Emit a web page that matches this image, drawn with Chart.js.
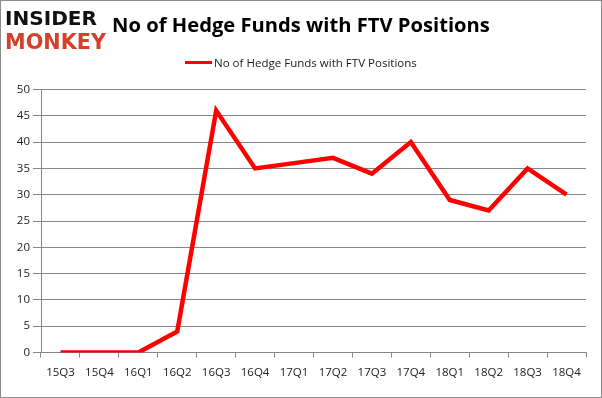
<!DOCTYPE html>
<html><head><meta charset="utf-8">
<script src="https://cdn.jsdelivr.net/npm/chart.js@4.4.1/dist/chart.umd.min.js"></script>
<style>
html,body{margin:0;padding:0;background:#fff;}
#wrap{position:absolute;left:0;top:0;width:602px;height:398px;}
#frame{position:absolute;left:0;top:0;width:602px;height:398px;box-sizing:border-box;border:1px solid #8c8c8c;pointer-events:none;}
.fit{position:absolute;white-space:nowrap;transform-origin:0 0;line-height:1;}
#logo1{font-family:"DejaVu Sans";font-weight:bold;color:#111;}
#logo2{font-family:"DejaVu Sans";font-weight:bold;color:#d6402b;}
#title{font-family:"Open Sans";font-weight:bold;color:#000;}
#legend{position:absolute;left:185px;top:54px;height:16px;}
#legline{position:absolute;left:0;top:7px;width:27px;height:3px;background:#ff0000;}
#legtext{position:absolute;left:29px;top:1px;font-family:"Open Sans";font-size:12px;color:#1a1a1a;white-space:nowrap;}
</style></head>
<body>
<div id="wrap"><canvas id="c" width="602" height="398"></canvas></div>
<div id="logo1" class="fit">INSIDER</div>
<div id="logo2" class="fit">MONKEY</div>
<div id="title" class="fit"></div>
<div id="legend"><div id="legline"></div><div id="legtext"></div></div>
<div id="frame"></div>
<script>
const chartTitle = "No of Hedge Funds with FTV Positions";
const seriesLabel = "No of Hedge Funds with FTV Positions";
const categories = ["15Q3","15Q4","16Q1","16Q2","16Q3","16Q4","17Q1","17Q2","17Q3","17Q4","18Q1","18Q2","18Q3","18Q4"];
const fundCounts = [0,0,0,4,46,35,36,37,34,40,29,27,35,30];
const yTicks = [0,5,10,15,20,25,30,35,40,45,50];

function fitBox(id, text, left, top, w, h, size){
  const el = document.getElementById(id);
  el.textContent = text;
  el.style.fontSize = size + 'px';
  el.style.left = left + 'px';
  el.style.top = top + 'px';
  const r = el.getBoundingClientRect();
  el.style.transform = 'scale(' + (w / r.width) + ',' + (h / r.height) + ')';
}
fitBox('logo1', 'INSIDER', 5, 8, 92, 20, 20);
fitBox('logo2', 'MONKEY', 5, 31, 101, 21, 20);
document.getElementById('title').textContent = chartTitle;
(function(){
  const el = document.getElementById('title');
  el.style.fontSize = '24px';
  const r = el.getBoundingClientRect();
  const s = 378 / r.width;
  el.style.fontSize = (24 * s) + 'px';
  const r2 = el.getBoundingClientRect();
  el.style.left = (301 - r2.width / 2) + 'px';
  el.style.top = '14px';
})();
(function(){
  const el = document.getElementById('legtext');
  el.textContent = seriesLabel;
  const r = el.getBoundingClientRect();
  el.style.fontSize = (12 * 203 / r.width) + 'px';
})();

const gridColor = '#878787';
new Chart(document.getElementById('c'), {
  type: 'line',
  data: {
    labels: categories,
    datasets: [{
      label: seriesLabel,
      data: fundCounts,
      borderColor: '#ff0000',
      backgroundColor: '#ff0000',
      borderWidth: 4.5,
      pointRadius: 0,
      tension: 0,
      fill: false
    }]
  },
  options: {
    responsive: false,
    animation: false,
    layout: { padding: { left: 0, right: 16, top: 89.5, bottom: 0 } },
    plugins: { legend: { display: false }, title: { display: false }, tooltip: { enabled: false } },
    scales: {
      x: {
        offset: true,
        grid: { display: true, drawOnChartArea: false, drawTicks: true, tickLength: 5, offset: true, color: gridColor },
        border: { display: true, color: gridColor, width: 1 },
        ticks: { color: '#222', font: { family: 'Open Sans', size: 11.5 }, padding: 8, maxRotation: 0, autoSkip: false },
        afterFit: s => { s.height = 45.5; }
      },
      y: {
        min: 0, max: 50,
        afterBuildTicks: s => { s.ticks = yTicks.map(v => ({ value: v })); },
        grid: { color: gridColor, lineWidth: 1, drawTicks: true, tickLength: 8 },
        border: { display: true, color: gridColor, width: 1 },
        ticks: { color: '#222', font: { family: 'Open Sans', size: 11.5 }, padding: 3 },
        afterFit: s => { s.width = 41; }
      }
    }
  }
});
</script>
</body></html>
